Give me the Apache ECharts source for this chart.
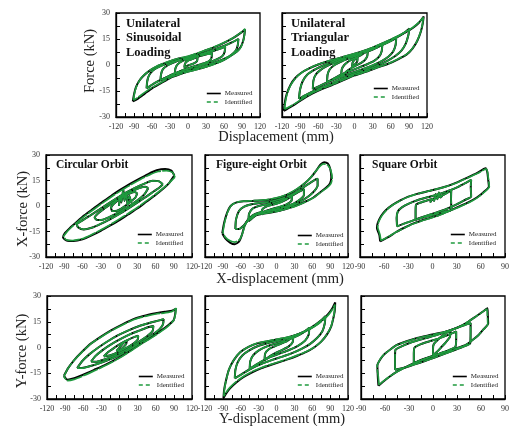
<!DOCTYPE html>
<html><head><meta charset="utf-8">
<script src="https://cdn.jsdelivr.net/npm/echarts@6/dist/echarts.min.js"></script>
<style>html,body{margin:0;padding:0;background:#fff}#c{width:512px;height:426px}</style>
</head><body><div id="c"></div>
<script>
// ---------- axis ranges / ticks ----------
const xRangeWide = [-120, 120];
const xRangeNarrow = [-90, 90];
const yRange = [-30, 30];
const xTickStep = 30;
const yTickStep = 15;

// ---------- titles ----------
const panelTitles = ['Unilateral\nSinusoidal\nLoading', 'Unilateral\nTriangular\nLoading', 'Circular Orbit', 'Figure-eight Orbit', 'Square Orbit', '', '', ''];
const legendNames = ['Measured', 'Identified'];

// ---------- Panel 1: unilateral sinusoidal ----------
const p1L1 = [[-92,-21],[-90,-17],[-87,-13],[-82,-9.5],[-75,-6.5],[-65,-3.5],[-50,-0.5],[-35,1.5],[-15,3.7],[0,4.8],[15,6.5],[30,8.5],[45,10.5],[60,12.8],[75,15.5],[88,18.5],[95,20.5],[94,17.5],[92,14],[88,10.5],[82,8],[72,5.5],[60,3],[45,0.8],[30,-1],[15,-2.5],[0,-3.8],[-15,-5.5],[-30,-7.5],[-45,-10.5],[-60,-13.5],[-72,-16.5],[-84,-19.5],[-92,-21]];
const p1L2 = [[-69,-13.5],[-68,-9.5],[-65,-6],[-58,-3],[-45,-0.5],[-25,2],[0,4.3],[20,6.2],[40,8.5],[60,11],[75,13.3],[84,15],[83,11.5],[80,8.5],[72,5.8],[60,3.5],[40,0.8],[20,-1.5],[0,-3.2],[-20,-5.2],[-40,-7.8],[-55,-10.3],[-69,-13.5]];
const p1L3 = [[-46,-9],[-45,-5.5],[-42,-2.5],[-33,0],[-18,2.3],[0,4],[20,5.8],[40,7.8],[55,9.6],[62,10.6],[61,7.5],[57,5],[45,2.8],[30,0.8],[15,-0.8],[0,-2.3],[-15,-4],[-30,-6],[-46,-9]];
const p1L4 = [[-22,-5],[-21,-2],[-17,0.5],[-8,2.5],[5,3.8],[20,5.2],[40,7],[39,4],[34,2],[22,0.5],[8,-1],[-8,-2.8],[-22,-5]];
const p1L5 = [[-6,-1.5],[-5,0.8],[0,2.5],[8,3.5],[16,5],[15,2.2],[9,0.8],[0,-0.3],[-6,-1.5]];
const p1L1id = [[-91,-20.3],[-89,-16],[-86,-12.5],[-81,-9],[-74,-6],[-64,-3.2],[-50,-0.3],[-35,1.7],[-15,3.9],[0,5],[15,6.7],[30,8.6],[45,10.6],[60,12.9],[75,15.6],[88,18.7],[95,20.8],[94,17.3],[92,13.8],[88,10.2],[82,7.8],[72,5.3],[60,2.9],[45,0.6],[30,-1.1],[15,-2.6],[0,-3.9],[-15,-5.4],[-30,-7.3],[-45,-10.1],[-60,-13],[-72,-15.8],[-84,-18.8],[-91,-20.3]];

// ---------- Panel 2: unilateral triangular ----------
const p2L1 = [[-117,-26.5],[-115,-21],[-112,-16.5],[-106,-11.5],[-98,-7.5],[-88,-4.5],[-75,-2],[-60,0.3],[-45,2],[-30,3.5],[-10,5.5],[10,7.5],[30,10],[50,13],[70,16.2],[85,19],[97,21.5],[107,24.5],[114.5,28],[113,24],[110,19.5],[104,14],[96,9.5],[86,6],[72,3.3],[58,1],[40,-1.2],[20,-3.8],[0,-6],[-20,-9],[-40,-12],[-55,-14],[-70,-16.5],[-85,-19.5],[-100,-23],[-110,-25],[-117,-26.5]];
const p2L2 = [[-92,-19.5],[-90,-14],[-86,-9.5],[-78,-5.5],[-65,-2.5],[-50,0],[-30,2.8],[-10,5],[10,7.2],[30,9.6],[50,12.5],[70,16],[84,19],[91,21],[89,17],[85,12.5],[78,8.5],[68,5.3],[55,2.5],[40,0],[20,-2.8],[0,-5],[-20,-7.8],[-40,-10.8],[-60,-13.8],[-78,-16.8],[-92,-19.5]];
const p2L3 = [[-69,-14],[-68,-9],[-64,-5.5],[-56,-2.8],[-45,-0.5],[-30,1.8],[-10,4.5],[10,6.8],[30,9.2],[50,12.2],[62,14.2],[69,15.5],[68,11.5],[64,7.8],[56,4.8],[45,2.3],[30,-0.2],[10,-2.8],[-10,-5.2],[-30,-7.8],[-50,-10.8],[-69,-14]];
const p2L4 = [[-45.5,-10],[-44.5,-5.5],[-41,-2.5],[-33,0],[-20,2.3],[-5,4.3],[10,6.2],[25,8.2],[38,10.2],[46,11.6],[45,8],[41,5],[33,2.5],[20,0.3],[5,-1.8],[-10,-3.8],[-25,-6],[-45.5,-10]];
const p2L5 = [[-22,-6.5],[-21,-2.5],[-17,0],[-9,2.3],[2,4.2],[12,6],[22,8.5],[21,5],[16,2.5],[7,0.5],[-3,-1.3],[-12,-3.3],[-22,-6.5]];
const p2L6 = [[-4,-1],[-3,1.5],[0,3],[5,4.5],[4.5,2],[1,0.5],[-4,-1]];
const p2L1id = [[-116,-25.5],[-114,-20.5],[-111,-16],[-105,-11.2],[-97,-7.3],[-87,-4.3],[-75,-1.9],[-60,0.4],[-45,2.1],[-30,3.6],[-10,5.6],[10,7.6],[30,10.1],[50,13.1],[70,16.4],[85,19.2],[97,21.8],[107,24.8],[114,27.5],[112.5,23.6],[109.5,19.2],[103.5,13.8],[95.5,9.4],[86,6.1],[72,3.4],[58,1.1],[40,-1.1],[20,-3.7],[0,-5.9],[-20,-8.8],[-40,-11.8],[-55,-13.8],[-70,-16.2],[-85,-19.2],[-100,-22.6],[-110,-24.5],[-116,-25.5]];

// ---------- Panel 3: circular orbit, X ----------
const p3L1 = [[91,18],[86,20.8],[76,21.8],[62,21],[48,18.8],[33,16],[18,13],[3,9.8],[-12,6.2],[-27,2.5],[-42,-1.5],[-57,-5.5],[-70,-9.5],[-81,-13],[-89,-16],[-92,-18.5],[-86,-20.3],[-75,-20.6],[-60,-19.6],[-45,-17.3],[-30,-14.6],[-15,-11.6],[0,-8.5],[15,-5],[30,-1.5],[45,2.5],[60,6.5],[72,10],[83,13.8],[91,18]];
const p3L2 = [[72,12.8],[66,14.5],[55,14.8],[42,13.2],[28,11],[13,8.2],[-2,5],[-17,1.6],[-32,-2],[-47,-5.5],[-60,-8.5],[-69,-10.8],[-67,-12.6],[-58,-13.8],[-45,-12.8],[-30,-10.5],[-15,-7.8],[0,-4.8],[15,-1.5],[30,2],[45,5.5],[58,8.8],[67,11],[72,12.8]];
const p3L3 = [[48,10.5],[43,11.3],[33,10.5],[20,8.5],[5,5.5],[-10,2],[-24,-1.5],[-35,-4.5],[-40,-6.8],[-36,-8.3],[-26,-8],[-12,-5.8],[3,-3],[18,0.3],[32,3.8],[42,7],[48,10.5]];
const p3L4 = [[30,7.5],[25,8.3],[15,7],[3,4.5],[-8,1.5],[-13,-1],[-11,-3],[-3,-2.8],[8,-0.5],[19,2.5],[27,5],[30,7.5]];
const p3L5 = [[0,0],[2,6],[4,2],[7,10],[9,3],[12,8],[14,1],[17,6],[20,2]];
const p3L1id = [[92,17],[88,19.8],[78,20.8],[64,20.3],[50,18.3],[35,15.6],[20,12.6],[5,9.5],[-10,6],[-25,2.3],[-40,-1.6],[-55,-5.5],[-68,-9.3],[-79,-12.8],[-87,-15.8],[-91,-18],[-87,-19.8],[-76,-20.3],[-61,-19.3],[-46,-17],[-31,-14.3],[-16,-11.3],[-1,-8],[14,-4.7],[29,-1.2],[44,2.7],[59,6.6],[71,10],[82,13.5],[92,17]];

// ---------- Panel 4: figure-eight orbit, X ----------
const p4L1 = [[-91,-16],[-88,-10],[-83,-4],[-77,0],[-68,2],[-55,2.8],[-40,3],[-25,3.2],[-10,3.8],[5,5],[20,7],[35,10],[48,13.5],[58,17],[67,21],[74,24.5],[80,25.8],[86,25],[90,22],[92,17],[90,13.5],[84,11],[75,8.5],[62,5],[48,2.5],[33,0.2],[18,-1.5],[3,-3],[-12,-4],[-27,-4.8],[-40,-6],[-48,-8],[-54,-12],[-58,-17],[-63,-21],[-70,-22.5],[-78,-21.5],[-86,-19],[-91,-16]];
const p4L2 = [[-69,-13.5],[-68,-8],[-63,-3],[-55,-0.5],[-42,1],[-28,1.8],[-12,2.5],[3,3.8],[18,5.5],[32,8],[45,11],[56,13.5],[65,15.5],[69,16],[69,12],[64,9],[55,6],[42,3],[28,0.5],[13,-1.3],[-2,-2.5],[-17,-3.3],[-30,-4],[-40,-5.5],[-47,-8],[-55,-11.5],[-63,-13.5],[-69,-13.5]];
const p4L3 = [[-47,-9],[-46,-4.5],[-40,-1.5],[-30,0],[-17,1],[-3,2.2],[12,3.8],[26,6],[38,8.5],[46,10],[46,6.5],[40,4],[28,1.3],[14,-0.5],[0,-1.8],[-15,-2.8],[-27,-3.8],[-36,-5.8],[-47,-9]];
const p4L4 = [[-25,-5],[-24,-2],[-17,-0.3],[-6,0.8],[8,2.3],[20,4.5],[26,5.8],[25,3],[17,1],[5,-0.5],[-8,-1.8],[-18,-3],[-25,-5]];
const p4L1id = [[-90,-15.5],[-87,-9.5],[-82,-3.5],[-76,0.3],[-67,2.2],[-55,2.9],[-40,3.1],[-25,3.4],[-10,4],[5,5.2],[20,7.2],[35,10.2],[48,13.6],[58,17],[66,20.5],[73,23.5],[79,24.8],[86,24],[91,21],[93.5,16],[91,13],[85,10.8],[75,8.3],[62,4.8],[48,2.3],[33,0],[18,-1.6],[3,-3],[-12,-3.9],[-27,-4.6],[-39,-5.8],[-47,-7.8],[-53,-11.5],[-57,-16],[-62,-19.8],[-70,-21.3],[-78,-20.5],[-86,-18.3],[-90,-15.5]];

// ---------- Panel 5: square orbit, X ----------
const p5L1 = [[-65,-20.8],[-66,-17],[-69,-13],[-68,-10],[-64,-6],[-58,-2.5],[-50,0.5],[-40,3.3],[-30,5.5],[-18,7.3],[-5,8.8],[8,10.3],[20,12],[32,14.2],[44,16.8],[55,19.3],[66,22.2],[68,20],[69,16],[70,11.5],[63,8],[55,5],[45,2.3],[33,-0.3],[20,-3],[8,-5.3],[-5,-7.3],[-15,-8.8],[-25,-10.5],[-35,-12.8],[-45,-15.3],[-55,-18.3],[-65,-20.8]];
const p5L2 = [[-44,-12],[-44.5,-7],[-43,-3.2],[-38,-0.8],[-30,1.3],[-18,3.5],[-5,5.3],[8,7],[20,9],[32,11.3],[42,13.8],[48,15.4],[47.5,11],[48,5.6],[40,3.5],[30,1],[18,-1.6],[5,-3.8],[-8,-5.8],[-20,-7.8],[-32,-9.8],[-44,-12]];
const p5L3 = [[-21,-8.1],[-21,-4],[-20.5,0.7],[-15,2],[-7,3.2],[2,4.5],[11,6],[19,8],[23.3,9.5],[23,4],[23.5,-2.2],[16,-3.3],[6,-4.5],[-4,-5.8],[-13,-7],[-21,-8.1]];
const p5L4 = [[-3,2],[0,4],[2,3],[4,7],[6,4],[8,8],[10,5],[12,6]];
const p5L1id = [[-64,-20.3],[-65.5,-16.5],[-68,-12.5],[-67,-9.6],[-63,-5.8],[-57,-2.3],[-49,0.7],[-39,3.4],[-29,5.6],[-17,7.4],[-4,8.9],[9,10.4],[21,12.1],[33,14.3],[45,16.8],[56,19.2],[66.5,21.8],[68.5,19.5],[69.5,15.5],[70.5,11.3],[63.5,7.8],[55.5,4.8],[45.5,2.1],[33.5,-0.5],[20.5,-3.1],[8.5,-5.4],[-4.5,-7.4],[-14.5,-8.9],[-24.5,-10.6],[-34.5,-12.8],[-44.5,-15.2],[-54.5,-18],[-64,-20.3]];

// ---------- Panel 6: circular orbit, Y ----------
const p6L1 = [[-92,-16.5],[-85,-12],[-75,-7.3],[-62,-2.5],[-47,2.4],[-30,6.5],[-14,10],[5,13.5],[25,16.8],[45,18.8],[60,19.9],[75,20.8],[87,21.4],[93,22.5],[92,19],[89.5,15.8],[80,12.8],[70,10.1],[55,6.5],[36,2.4],[18,-1.8],[-3,-6.3],[-22,-9.8],[-42,-13],[-60,-15.8],[-75,-17.9],[-86,-18.8],[-92,-16.5]];
const p6L2 = [[-70,-12],[-62,-8],[-50,-4],[-35,0],[-20,3.5],[-3,7],[15,10],[35,12.8],[52,14.6],[66,15.8],[73,16.5],[72,13.5],[66,10.5],[55,7.5],[40,4],[22,0],[5,-3.5],[-12,-6.3],[-30,-8.8],[-48,-10.8],[-62,-12],[-70,-12]];
const p6L3 = [[-47,-8.2],[-40,-5],[-28,-1.5],[-14,1.8],[2,5],[18,7.8],[34,10],[47,11.8],[56,12.5],[55,9.8],[48,7.3],[35,4],[20,0.5],[5,-2.5],[-10,-5],[-25,-7],[-38,-8.3],[-47,-8.2]];
const p6L4 = [[-26,-5.2],[-20,-3],[-10,-0.5],[2,2.2],[14,4.5],[25,6.2],[31,6.8],[30,4.5],[22,2],[10,-0.5],[-3,-2.8],[-15,-4.5],[-26,-5.2]];
const p6L5 = [[-5,-2],[0,0],[6,2.5],[12,4],[11,2],[5,-0.3],[-1,-1.8],[-5,-2]];
const p6L1id = [[-92,-17],[-86,-12.5],[-76,-7.8],[-63,-3],[-48,2],[-31,6],[-15,9.5],[4,13],[24,16.3],[44,18.3],[60,19.5],[75,20.2],[87,21],[94,23.2],[92.5,19.5],[90,16],[80.5,12.5],[70.5,9.8],[55.5,6.2],[36.5,2.1],[18.5,-2.1],[-2.5,-6.6],[-21.5,-10.2],[-41.5,-13.5],[-60,-16.5],[-75,-18.6],[-86,-19.3],[-92,-17]];

// ---------- Panel 7: figure-eight orbit, Y ----------
const p7L1 = [[-89,-29.5],[-88,-25],[-85,-19.5],[-80,-13],[-72,-7.5],[-61,-2.8],[-47,0.3],[-32,2.4],[-15,3.6],[0,4.6],[15,5.6],[30,7],[45,9],[58,11.3],[70,14],[80,17],[88,20],[94,23],[98.5,26.2],[98,22],[96,18],[92,12.5],[85,7.8],[75,3.4],[63,0],[50,-2.6],[35,-4.8],[20,-6.8],[5,-8.5],[-10,-10.2],[-25,-12],[-40,-14.3],[-55,-17.2],[-68,-20.5],[-78,-23.8],[-85,-27],[-89,-29.5]];
const p7L2 = [[-70,-18],[-69,-13],[-65,-8.5],[-57,-4.5],[-45,-1.5],[-30,1],[-13,2.8],[3,4],[20,5.6],[37,7.8],[52,10.3],[65,13.2],[75,15.8],[82,18.2],[81,14],[77,9.5],[68,5.5],[56,2],[42,-0.8],[26,-3.3],[10,-5.3],[-7,-7.2],[-24,-9.3],[-40,-11.8],[-55,-14.8],[-70,-18]];
const p7L3 = [[-45,-12.5],[-44,-8],[-39,-4.5],[-29,-1.5],[-15,0.8],[0,2.5],[15,4],[30,6],[44,8.5],[55,11.5],[54,7.5],[48,4],[36,1],[22,-1.3],[7,-3.3],[-10,-5.5],[-27,-8.5],[-45,-12.5]];
const p7L4 = [[-20,-7.5],[-19,-3.5],[-13,-1],[-3,0.7],[8,2.3],[19,4],[28,6.5],[27,3],[20,0.5],[9,-1.5],[-3,-3.5],[-12,-5.3],[-20,-7.5]];
const p7L1id = [[-88.5,-28.5],[-87.5,-24.5],[-84.5,-19],[-79.5,-12.5],[-71.5,-7.2],[-60.5,-2.6],[-46.5,0.5],[-31.5,2.6],[-14.5,3.8],[0.5,4.8],[15.5,5.8],[30.5,7.1],[45.5,9],[58.5,11.2],[70.5,13.8],[80.5,16.7],[88.5,19.6],[94.5,22.6],[98,25],[97.5,21.5],[95.5,17.6],[91.5,12.2],[84.5,7.6],[74.5,3.3],[62.5,0],[49.5,-2.5],[34.5,-4.6],[19.5,-6.6],[4.5,-8.3],[-10.5,-10],[-25.5,-11.8],[-40.5,-14],[-55,-16.8],[-68,-20],[-78,-23.2],[-85,-26.3],[-88.5,-28.5]];

// ---------- Panel 8: square orbit, Y ----------
const p8L1 = [[-68.2,-22.3],[-69,-17],[-69.5,-10.2],[-66,-7],[-61,-4],[-53,-1],[-45,1.5],[-33,3.6],[-20,5.5],[-6,7],[8,8.4],[21,10],[33,12.2],[44,15],[54,18.2],[62,20.8],[68,22.8],[68.5,19],[69,14],[63,10.5],[57,7.3],[49,4.2],[41,1.5],[29,-0.5],[16,-2.4],[4,-4.3],[-9,-6.3],[-21,-8.5],[-33,-11.1],[-44,-13.8],[-54,-16.9],[-62,-19.8],[-68.2,-22.3]];
const p8L2 = [[-47.5,-13],[-47.5,-7],[-47,-1.4],[-40,0.5],[-30,2.5],[-18,4.3],[-5,6],[8,7.8],[20,9.8],[32,11.8],[42,13.5],[47,14.2],[47,9],[46.5,2.4],[38,0.5],[27,-1.5],[15,-3.6],[2,-5.8],[-11,-8],[-24,-10],[-36,-11.8],[-47.5,-13]];
const p8L3 = [[-24,-9],[-24,-4],[-23,0],[-15,2],[-5,3.5],[6,5],[16,6.8],[25,8.5],[29,9.3],[29,5.5],[28,0.5],[20,-1.5],[10,-3.3],[0,-5],[-12,-7],[-24,-9]];
const p8L4 = [[0,-4.5],[0,-1],[1,2],[6,4.5],[12,7],[18,8.8],[22,9.5],[21,6],[16,3],[10,0],[5,-2.5],[0,-4.5]];
const p8L1id = [[-67.5,-21.8],[-68.5,-16.5],[-70,-11.5],[-66.5,-7.2],[-61.5,-4.2],[-53.5,-1.2],[-45.5,1.3],[-33.5,3.4],[-20.5,5.3],[-6.5,6.8],[7.5,8.2],[20.5,9.8],[32.5,12],[43.5,14.8],[53.5,18],[61.5,20.6],[67.5,22.3],[68,18.5],[68.5,13.5],[62.5,10.2],[56.5,7.1],[48.5,4],[40.5,1.3],[28.5,-0.7],[15.5,-2.6],[3.5,-4.5],[-9.5,-6.5],[-21.5,-8.7],[-33.5,-11.3],[-44.5,-14],[-54.5,-17],[-62,-19.6],[-67.5,-21.8]];

// ---------- panels ----------
const panels = [
  {m:[p1L1,p1L2,p1L3,p1L4,p1L5], g:[p1L1id,p1L2,p1L3,p1L4,p1L5], x:xRangeWide},
  {m:[p2L1,p2L2,p2L3,p2L4,p2L5,p2L6], g:[p2L1id,p2L2,p2L3,p2L4,p2L5,p2L6], x:xRangeWide},
  {m:[p3L1,p3L2,p3L3,p3L4,p3L5], g:[p3L1id,p3L2,p3L3,p3L4,p3L5], x:xRangeWide},
  {m:[p4L1,p4L2,p4L3,p4L4], g:[p4L1id,p4L2,p4L3,p4L4], x:xRangeWide},
  {m:[p5L1,p5L2,p5L3,p5L4], g:[p5L1id,p5L2,p5L3,p5L4], x:xRangeNarrow},
  {m:[p6L1,p6L2,p6L3,p6L4,p6L5], g:[p6L1id,p6L2,p6L3,p6L4,p6L5], x:xRangeWide},
  {m:[p7L1,p7L2,p7L3,p7L4], g:[p7L1id,p7L2,p7L3,p7L4], x:xRangeWide},
  {m:[p8L1,p8L2,p8L3,p8L4], g:[p8L1id,p8L2,p8L3,p8L4], x:xRangeNarrow}
];

// layout (pixels): [left, top, width, height], legend [left, top], y labels, title pos/size
const layout = [
  {box:[116,13,144,104], leg:[206,90], ylab:true,  tpos:[126,16.5], ts:12.5},
  {box:[282,13,145,104], leg:[373,85], ylab:false, tpos:[291,16.5], ts:12.5},
  {box:[46,155,146,102], leg:[137,231], ylab:true,  tpos:[56,158], ts:11.5},
  {box:[205,155,143,102], leg:[297,232], ylab:false, tpos:[216,158], ts:11.5},
  {box:[360,155,146,102], leg:[450,231], ylab:false, tpos:[372,158], ts:11.5},
  {box:[47,296,145,103], leg:[138,373], ylab:true,  tpos:[57,300], ts:11.5},
  {box:[205,296,143,103], leg:[297,373], ylab:false, tpos:[216,300], ts:11.5},
  {box:[361,296,145,103], leg:[452,373], ylab:false, tpos:[372,300], ts:11.5}
];

const FONT = '"Liberation Serif", "DejaVu Serif", serif';
const BLACK = '#000000';
const GREEN = '#1f9a3e';

const grid = [], xAxis = [], yAxis = [], series = [], legend = [], graphic = [];
panels.forEach((p, i) => {
  const L = layout[i];
  grid.push({left:L.box[0], top:L.box[1], width:L.box[2], height:L.box[3], show:true,
    borderColor:'#000', borderWidth:1.3, backgroundColor:'#fff'});
  const tick = {inside:true, length:4, lineStyle:{color:'#000', width:1}};
  const minor = {show:true, splitNumber:2, length:4, lineStyle:{color:'#000', width:1}};
  xAxis.push({gridIndex:i, type:'value', min:p.x[0], max:p.x[1], interval:xTickStep,
    axisLine:{onZero:false, lineStyle:{color:'#000', width:1.3}},
    axisTick:tick, minorTick:minor, splitLine:{show:false}, minorSplitLine:{show:false},
    axisLabel:{fontSize:8, fontFamily:FONT, color:'#333', margin:6}});
  yAxis.push({gridIndex:i, type:'value', min:yRange[0], max:yRange[1], interval:yTickStep,
    axisLine:{onZero:false, lineStyle:{color:'#000', width:1.3}},
    axisTick:tick, minorTick:minor, splitLine:{show:false}, minorSplitLine:{show:false},
    axisLabel:{show:L.ylab, fontSize:8, fontFamily:FONT, color:'#333', margin:6}});
  p.m.forEach(loop => series.push({name:legendNames[0], type:'line', xAxisIndex:i, yAxisIndex:i,
    data:loop, symbol:'none', showSymbol:false, smooth:0.2, silent:true, z:2,
    lineStyle:{color:BLACK, width:2}, itemStyle:{color:BLACK}}));
  p.g.forEach(loop => series.push({name:legendNames[1], type:'line', xAxisIndex:i, yAxisIndex:i,
    data:loop, symbol:'none', showSymbol:false, smooth:0.2, silent:true, z:3,
    lineStyle:{color:GREEN, width:1.7, type:[16,1.2]}, itemStyle:{color:GREEN}}));
  legend.push({left:L.leg[0], top:L.leg[1], orient:'vertical', itemWidth:14, itemHeight:7, itemGap:1.5,
    padding:0, selectedMode:false, itemStyle:{opacity:0},
    data:[{name:legendNames[0], lineStyle:{width:1.6}}, {name:legendNames[1], lineStyle:{type:[4,3], width:1.6}}],
    textStyle:{fontSize:7, fontFamily:FONT, color:'#222', padding:[0,0,0,-1]}});
  if (panelTitles[i]) {
    graphic.push({type:'text', x:L.tpos[0], y:L.tpos[1], silent:true, z:10,
      style:{text:panelTitles[i], fill:'#111', font:'bold ' + L.ts + 'px ' + FONT, lineHeight:14.5,
        textAlign:'left', textVerticalAlign:'top'}});
  }
});

const axisTitles = [
  {t:'Displacement (mm)', x:276, y:137, r:0},
  {t:'X-displacement (mm)', x:280, y:279, r:0},
  {t:'Y-displacement (mm)', x:282, y:419, r:0},
  {t:'Force (kN)', x:90, y:61, r:Math.PI/2},
  {t:'X-force (kN)', x:23, y:209, r:Math.PI/2},
  {t:'Y-force (kN)', x:22, y:351, r:Math.PI/2}
];
axisTitles.forEach(a => graphic.push({type:'text', x:a.x, y:a.y, rotation:a.r, silent:true,
  style:{text:a.t, fill:'#222', font:'14.5px ' + FONT, textAlign:'center', textVerticalAlign:'middle'}}));

const chart = echarts.init(document.getElementById('c'), null, {renderer:'canvas'});
chart.setOption({animation:false, backgroundColor:'#fff', grid, xAxis, yAxis, series, legend, graphic});
</script></body></html>
